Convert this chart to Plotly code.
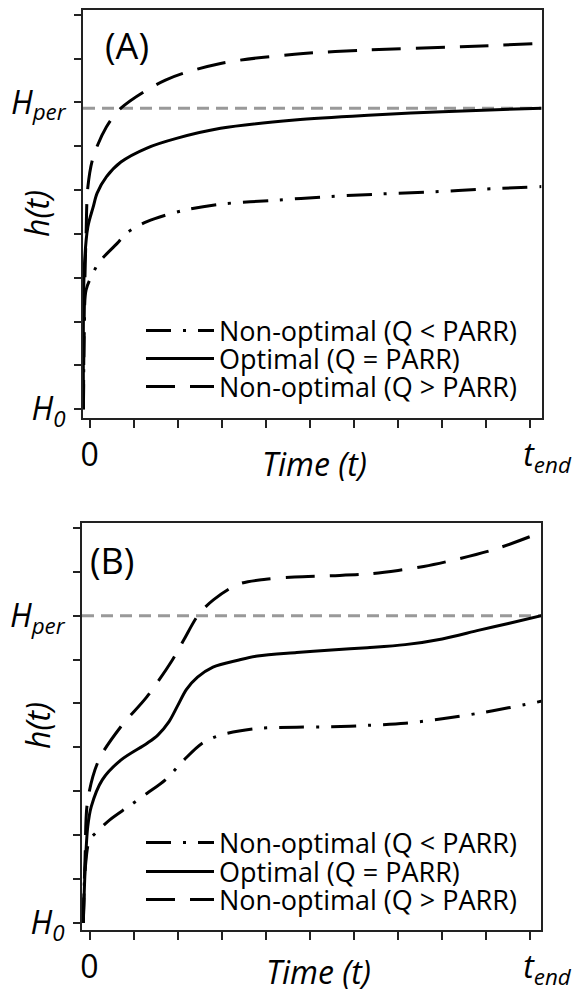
import plotly.graph_objects as go

# ---------------- data ----------------
# Panel (A)
T_A_LOW = [-0.14, -0.12, -0.08, 0.08, 0.22, 0.63, 0.84, 1.30, 2.14, 2.97, 4.23, 5.39, 6.57, 7.75, 8.91, 10.25]
H_A_LOW = [0.0, 1.8, 2.72, 3.11, 3.36, 3.79, 4.02, 4.28, 4.54, 4.68, 4.77, 4.85, 4.91, 4.96, 5.02, 5.08]
T_A_OPT = [-0.14, -0.12, -0.04, 0.08, 0.17, 0.38, 0.71, 1.30, 1.97, 2.97, 4.65, 6.32, 8.00, 10.25]
H_A_OPT = [0.0, 3.24, 4.16, 4.61, 4.93, 5.30, 5.64, 5.96, 6.18, 6.41, 6.60, 6.71, 6.79, 6.87]
T_A_HIGH = [-0.14, -0.12, -0.08, -0.04, 0.08, 0.38, 0.71, 1.72, 2.97, 4.65, 6.32, 8.42, 10.25]
H_A_HIGH = [0.0, 2.3, 4.0, 5.07, 5.75, 6.44, 6.87, 7.51, 7.89, 8.10, 8.20, 8.27, 8.35]
HPER_A = 6.87

# Panel (B)
T_B_LOW = [-0.14, -0.10, 0.00, 0.13, 0.46, 0.88, 1.30, 1.72, 2.14, 2.55, 2.97, 3.81, 4.7, 5.49, 6.3,
           7.16, 8.0, 8.84, 9.5, 10.25]
H_B_LOW = [0.0, 1.2, 1.89, 2.04, 2.35, 2.65, 2.95, 3.26, 3.71, 4.09, 4.28, 4.43, 4.46, 4.47, 4.50,
           4.55, 4.65, 4.78, 4.90, 5.05]
T_B_OPT = [-0.14, -0.10, -0.04, 0.04, 0.29, 0.71, 1.30, 1.55, 1.80, 2.00, 2.20, 2.45, 2.80, 3.39, 3.81,
           4.7, 5.49, 6.3, 7.16, 8.0, 8.84, 9.5, 10.25]
H_B_OPT = [0.0, 1.2, 2.19, 2.65, 3.26, 3.71, 4.09, 4.28, 4.58, 4.95, 5.32, 5.60, 5.83, 5.99, 6.08,
           6.16, 6.22, 6.27, 6.34, 6.47, 6.67, 6.82, 7.00]
T_B_HIGH = [-0.14, -0.10, -0.04, 0.21, 0.71, 1.30, 1.88, 2.14, 2.47, 2.81, 3.39, 4.0, 4.65, 5.5, 6.32,
            7.0, 7.58, 8.4, 9.25, 10.25]
H_B_HIGH = [0.0, 1.5, 2.80, 3.71, 4.47, 5.15, 5.99, 6.45, 7.02, 7.36, 7.72, 7.83, 7.88, 7.91, 7.95,
            8.03, 8.12, 8.30, 8.53, 8.90]
HPER_B = 7.0

SERIES_NAMES = ["Non-optimal (Q < PARR)", "Optimal (Q = PARR)", "Non-optimal (Q > PARR)"]

X_TICK_VALS = [0, 10]
X_TICK_TEXT = ["0", "\u00a0\u00a0\u00a0\u00a0<i>t<sub>end</sub></i>"]
Y_TICK_VALS = [0, 7]
Y_TICK_TEXT = ["<i>H<sub>0</sub></i>", "<i>H<sub>per</sub></i>"]

# ---------------- styling ----------------
W, H = 577, 994
FONT = "Open Sans"
DASHES = ["25px,12px,3px,12px", "solid", "29px,15px"]


def px_x(p):
    return p / W


def px_y(p):
    return 1 - p / H


fig = go.Figure()

panels = [
    ("x", "y", [(T_A_LOW, H_A_LOW), (T_A_OPT, H_A_OPT), (T_A_HIGH, H_A_HIGH)], ["legend", "legend2", "legend3"]),
    ("x2", "y2", [(T_B_LOW, H_B_LOW), (T_B_OPT, H_B_OPT), (T_B_HIGH, H_B_HIGH)], ["legend4", "legend5", "legend6"]),
]
for xa, ya, series, legs in panels:
    for (t, h), name, dash, leg in zip(series, SERIES_NAMES, DASHES, legs):
        fig.add_trace(go.Scatter(
            x=t, y=h, mode="lines", name=name, xaxis=xa, yaxis=ya,
            line=dict(color="black", width=3, dash=dash, shape="spline", smoothing=0.9),
            legend=leg, showlegend=True, hoverinfo="skip",
        ))

axis_common = dict(
    showgrid=False, zeroline=False, showline=True, linecolor="#222", linewidth=2,
    mirror=True, ticks="outside", tickcolor="#222", tickwidth=2, automargin=False,
    tickfont=dict(family=FONT, size=32, color="black"),
)

x_minor = dict(ticks="outside", tick0=0, dtick=1, ticklen=8, tickwidth=2, tickcolor="#222", showgrid=False)
y_minor = dict(ticks="outside", tick0=0, dtick=1, ticklen=7, tickwidth=2, tickcolor="#222", showgrid=False)

x_dom_a = [px_x(83), px_x(541.5)]
x_dom_b = [px_x(82), px_x(541)]
y_dom_a = [px_y(418), px_y(10)]
y_dom_b = [px_y(930), px_y(523)]

fig.update_layout(
    width=W, height=H, margin=dict(l=0, r=0, t=0, b=0, autoexpand=False),
    paper_bgcolor="white", plot_bgcolor="white",
    font=dict(family=FONT, color="black"),
    xaxis=dict(domain=x_dom_a, anchor="y", range=[-0.15, 10.25], tickvals=X_TICK_VALS, ticktext=X_TICK_TEXT,
               ticklen=8, ticklabelstandoff=0, minor=x_minor, **axis_common),
    yaxis=dict(domain=y_dom_a, anchor="x", range=[-0.2, 9.11], tickvals=Y_TICK_VALS, ticktext=Y_TICK_TEXT,
               ticklen=7, ticklabelstandoff=2, minor=y_minor, **axis_common),
    xaxis2=dict(domain=x_dom_b, anchor="y2", range=[-0.17, 10.24], tickvals=X_TICK_VALS, ticktext=X_TICK_TEXT,
                ticklen=8, ticklabelstandoff=0, minor=x_minor, **axis_common),
    yaxis2=dict(domain=y_dom_b, anchor="x2", range=[-0.16, 9.11], tickvals=Y_TICK_VALS, ticktext=Y_TICK_TEXT,
                ticklen=7, ticklabelstandoff=2, minor=y_minor, **axis_common),
    showlegend=True,
)

# reference line H_per
fig.add_shape(type="line", xref="x domain", yref="y", x0=0, x1=1, y0=HPER_A, y1=HPER_A,
              line=dict(color="#999999", width=3, dash="12px,7px"), layer="below")
fig.add_shape(type="line", xref="x2 domain", yref="y2", x0=0, x1=1, y0=HPER_B, y1=HPER_B,
              line=dict(color="#999999", width=3, dash="12px,7px"), layer="below")

# legends: one per row so that row spacing matches
legend_rows = {"legend": 331, "legend2": 359, "legend3": 387,
               "legend4": 843, "legend5": 872, "legend6": 900}
for key, ypix in legend_rows.items():
    fig.update_layout({key: dict(
        x=px_x(141), y=px_y(ypix), xanchor="left", yanchor="middle",
        font=dict(family=FONT, size=27, color="black"), itemwidth=68,
        bgcolor="rgba(0,0,0,0)", borderwidth=0, tracegroupgap=0,
    )})

# panel labels and axis titles
ann = []
ann.append(dict(text="(A)", x=px_x(103), y=px_y(45), xanchor="left", yanchor="middle",
                font=dict(family=FONT, size=36)))
ann.append(dict(text="(B)", x=px_x(88), y=px_y(560), xanchor="left", yanchor="middle",
                font=dict(family=FONT, size=36)))
for ycen in (214, 726):
    ann.append(dict(text="<i>h(t)</i>", x=px_x(37), y=px_y(ycen), xanchor="center", yanchor="middle",
                    textangle=-90, font=dict(family=FONT, size=32)))
for xcen, ycen in ((314, 463), (318, 971)):
    ann.append(dict(text="<i>Time (t)</i>", x=px_x(xcen), y=px_y(ycen), xanchor="center", yanchor="middle",
                    font=dict(family=FONT, size=32)))
for a in ann:
    a.update(xref="paper", yref="paper", showarrow=False)
fig.update_layout(annotations=ann)

fig.write_html("out.html")
